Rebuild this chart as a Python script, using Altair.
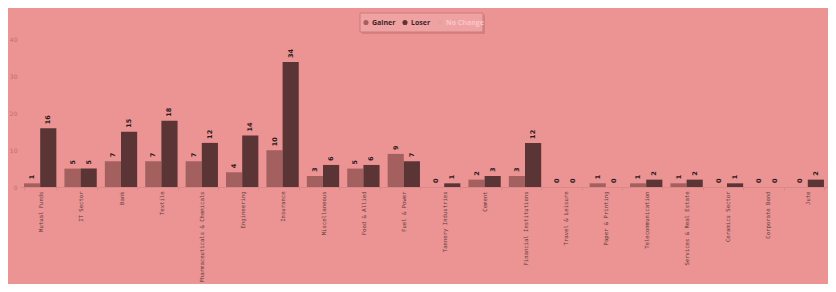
import altair as alt
import pandas as pd

categories = ["Mutual Funds", "IT Sector", "Bank", "Textile", "Pharmaceuticals & Chemicals",
              "Engineering", "Insurance", "Miscellaneous", "Food & Allied", "Fuel & Power",
              "Tannery Industries", "Cement", "Financial Institutions", "Travel & Leisure",
              "Paper & Printing", "Telecommunication", "Services & Real Estate",
              "Ceramics Sector", "Corporate Bond", "Jute"]
gainer = [1, 5, 7, 7, 7, 4, 10, 3, 5, 9, 0, 2, 3, 0, 1, 1, 1, 0, 0, 0]
loser = [16, 5, 15, 18, 12, 14, 34, 6, 6, 7, 1, 3, 12, 0, 0, 2, 2, 1, 0, 2]
series = ["Gainer", "Loser", "No Change"]
series_colors = ["#A45F5F", "#5B3535", "#DFA3A3"]
y_ticks = [0, 10, 20, 30, 40]

rows = []
for c, g, l in zip(categories, gainer, loser):
    rows.append({"cat": c, "series": "Gainer", "value": g})
    rows.append({"cat": c, "series": "Loser", "value": l})
df = pd.DataFrame(rows)

W, H = 808, 179

x_enc = alt.X("cat:N", sort=categories, title=None,
              scale=alt.Scale(paddingInner=0.2, paddingOuter=0.1),
              axis=alt.Axis(labelAngle=-90, labelFontSize=5.6, labelFont="DejaVu Sans Mono",
                            labelColor="#5A3D3D", labelPadding=1, tickSize=3,
                            tickColor="#D88A8A", domainColor="#D88A8A",
                            tickBand="extent", labelLimit=300))
y_enc = alt.Y("value:Q", title=None,
              scale=alt.Scale(domain=[0, 48.7], nice=False),
              axis=alt.Axis(values=y_ticks, grid=False, domain=False, ticks=False,
                            labelFontSize=6, labelColor="#BF6E6E", labelPadding=3,
                            labelFont="DejaVu Sans"))
xo = alt.XOffset("series:N", sort=series[:2], scale=alt.Scale(paddingInner=0, paddingOuter=0))

bars = alt.Chart(df).mark_bar().encode(
    x=x_enc, y=y_enc, xOffset=xo,
    color=alt.Color("series:N", scale=alt.Scale(domain=series, range=series_colors), legend=None),
)
labels = alt.Chart(df).mark_text(angle=270, align="left", baseline="middle", dx=4,
                                 fontSize=6.5, fontWeight="bold", color="#2A1A1A",
                                 font="DejaVu Sans").encode(
    x=x_enc, y=y_enc, xOffset=xo, text=alt.Text("value:Q"))

one = pd.DataFrame({"t": [""]})
shadow = alt.Chart(one).mark_rect(fill="#D68080").encode(
    x=alt.value(342), x2=alt.value(465), y=alt.value(7), y2=alt.value(26))
box = alt.Chart(one).mark_rect(fill="#F0A2A2", stroke="#C97C7C", strokeWidth=1).encode(
    x=alt.value(340), x2=alt.value(463), y=alt.value(5), y2=alt.value(24))

legend_layers = [shadow, box]
sym_x = [346, 385, 420]
text_colors = ["#3A2626", "#3A2626", "#F8C6C6"]
for name, col, sx, tc in zip(series, series_colors, sym_x, text_colors):
    d = pd.DataFrame({"t": [name]})
    legend_layers.append(alt.Chart(d).mark_point(filled=True, shape="circle", size=26,
                                                 color=col, opacity=1).encode(
        x=alt.value(sx), y=alt.value(14.5)))
    legend_layers.append(alt.Chart(d).mark_text(align="left", baseline="middle", fontSize=7,
                                                fontWeight="bold", font="Open Sans",
                                                color=tc).encode(
        x=alt.value(sx + 6), y=alt.value(14.5), text="t:N"))

chart = alt.layer(bars, labels, *legend_layers).properties(
    width=W, height=H,
    autosize=alt.AutoSizeParams(type="none"),
    padding={"left": 12, "top": 0, "right": 0, "bottom": 97},
    background="#EC9393",
).configure_view(stroke=None)

chart.save("out.html", embed_options={"renderer": "svg", "actions": False})
